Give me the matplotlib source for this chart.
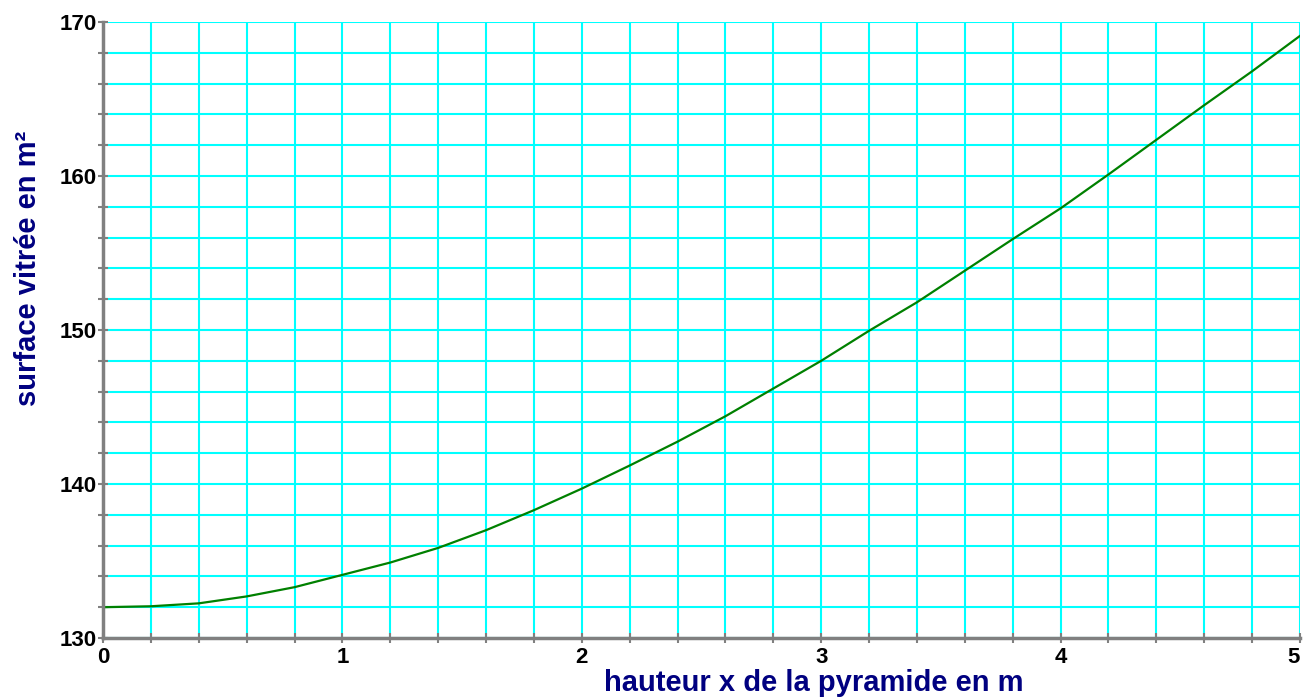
import matplotlib
matplotlib.use("Agg")
import matplotlib.pyplot as plt
from matplotlib.ticker import MultipleLocator, FuncFormatter

# valeurs
hauteur = [0.0, 0.2, 0.4, 0.6, 0.8, 1.0, 1.2, 1.4, 1.6, 1.8, 2.0, 2.2, 2.4, 2.6, 2.8,
           3.0, 3.2, 3.4, 3.6, 3.8, 4.0, 4.2, 4.4, 4.6, 4.8, 5.0]
surface = [132.0, 132.06, 132.25, 132.7, 133.3, 134.1, 134.9, 135.85, 137.0, 138.3, 139.7,
           141.2, 142.75, 144.4, 146.2, 148.0, 149.95, 151.8, 153.85, 155.9, 157.9, 160.1,
           162.35, 164.6, 166.8, 169.1]

plt.rcParams['font.family'] = ['Liberation Sans', 'DejaVu Sans']

fig = plt.figure(figsize=(13.03, 6.98), dpi=100)
ax = fig.add_axes([103/1303, 60/698, 1197/1303, 616/698])

ax.plot(hauteur, surface, color='#008000', lw=1.6, zorder=3)

ax.set_xlim(0, 5)
ax.set_ylim(130, 170)
ax.xaxis.set_major_locator(MultipleLocator(0.2))
ax.yaxis.set_major_locator(MultipleLocator(2))

def lab_x(v, pos):
    return str(int(round(v))) if abs(v - round(v)) < 1e-6 else ''

def lab_y(v, pos):
    return str(int(round(v))) if abs(v % 10) < 1e-6 or abs(v % 10 - 10) < 1e-6 else ''

ax.xaxis.set_major_formatter(FuncFormatter(lab_x))
ax.yaxis.set_major_formatter(FuncFormatter(lab_y))

ax.grid(True, color='#00ffff', lw=1.5, zorder=0)
ax.set_axisbelow(True)
for s in ['top', 'right']:
    ax.spines[s].set_visible(False)
for s in ['left', 'bottom']:
    ax.spines[s].set_color('#808080')
    ax.spines[s].set_linewidth(2.5)
    ax.spines[s].set_zorder(4)

ax.tick_params(direction='inout', length=7, width=1.5, color='#808080',
               labelsize=16)
ax.tick_params(axis='x', pad=3)
ax.tick_params(axis='y', pad=1)

fig.text(814/1303, 1 - 683/698, 'hauteur x de la pyramide en m', ha='center', va='center',
         fontsize=21, fontweight='bold', color='#000080')
fig.text(28/1303, 1 - 268/698, 'surface vitrée en m²', ha='center', va='center',
         rotation=90, fontsize=21, fontweight='bold', color='#000080')

fig.canvas.draw()
for t in ax.get_xticklabels() + ax.get_yticklabels():
    t.set_fontweight('bold')
    if t.get_text() == '5':
        t.set_ha('right')

fig.savefig('out.png', dpi=100)
